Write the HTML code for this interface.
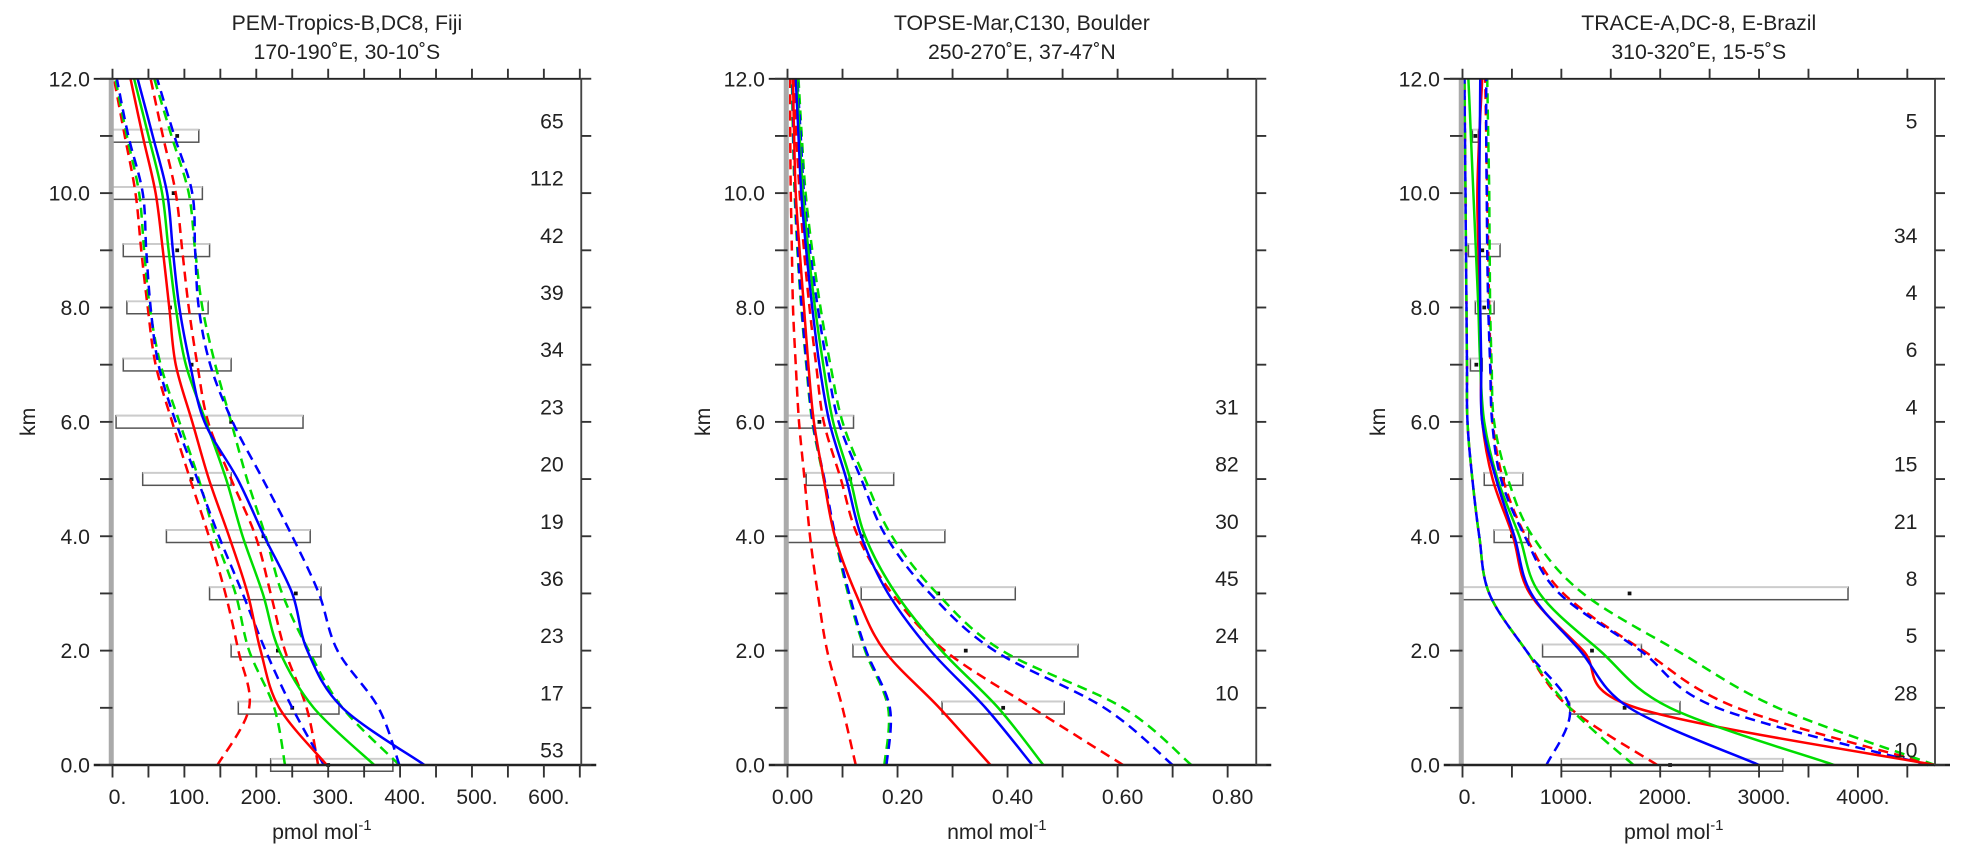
<!DOCTYPE html>
<html><head><meta charset="utf-8"><style>
html,body{margin:0;padding:0;background:#fff;}
svg{display:block;font-family:"Liberation Sans",sans-serif;}
</style></head><body>
<svg id="chart" width="1969" height="861" viewBox="0 0 1575.2 688.8" xmlns="http://www.w3.org/2000/svg"></svg>
<script>
// ---------- data ----------
const levels = [0,1,2,3,4,5,6,7,8,9,10,11,12];
const p1Titles = ["PEM-Tropics-B,DC8, Fiji","170-190˚E, 30-10˚S"];
const p2Titles = ["TOPSE-Mar,C130, Boulder","250-270˚E, 37-47˚N"];
const p3Titles = ["TRACE-A,DC-8, E-Brazil","310-320˚E, 15-5˚S"];
const p1Ticks = ["0.","100.","200.","300.","400.","500.","600."];
const p1TickVals = [0,100,200,300,400,500,600];
const p2Ticks = ["0.00","0.20","0.40","0.60","0.80"];
const p2TickVals = [0,0.2,0.4,0.6,0.8];
const p3Ticks = ["0.","1000.","2000.","3000.","4000."];
const p3TickVals = [0,1000,2000,3000,4000];
const yTickLabels = ["0.0","2.0","4.0","6.0","8.0","10.0","12.0"];
const yTickVals = [0,2,4,6,8,10,12];

// panel 1 profiles (value at each level 0..12)
const p1RedSolid   = [298,232,206,188,162,134,111,88,79,70,60,42,25];
const p1GreenSolid = [364,280,232,209,181,158,130,102,88,78,69,50,30];
const p1BlueSolid  = [434,320,271,250,211,174,128,108,93,84,76,56,35];
const p1RedLow     = [146,190,175,157,134,108,83,60,49,40,32,17,2];
const p1RedHigh    = [286,270,240,220,199,165,133,118,106,97,88,70,53];
const p1GreenLow   = [240,225,190,171,143,120,93,67,52,44,37,20,4];
const p1GreenHigh  = [399,320,273,236,213,187,165,143,125,115,106,82,58];
const p1BlueLow    = [294,250,213,181,148,118,88,64,53,47,42,22,6];
const p1BlueHigh   = [399,370,313,287,250,209,167,136,120,115,111,86,62];
const p1Counts = ["53","17","23","36","19","20","23","34","39","42","112","65",""];
const p1BoxLo  = [220,175,165,135,75,42,5,15,20,15,0,0,null];
const p1BoxHi  = [390,315,290,290,275,165,265,165,133,135,125,120,null];
const p1BoxMed = [300,250,230,255,210,110,165,110,80,90,85,90,null];

// panel 2 profiles
const p2RedSolid   = [0.369,0.276,0.176,0.124,0.086,0.066,0.048,0.038,0.030,0.022,0.015,0.012,0.010];
const p2GreenSolid = [0.465,0.383,0.280,0.197,0.141,0.114,0.083,0.065,0.050,0.038,0.028,0.022,0.017];
const p2BlueSolid  = [0.445,0.360,0.260,0.183,0.134,0.107,0.076,0.058,0.045,0.034,0.025,0.020,0.015];
const p2RedLow     = [0.124,0.100,0.072,0.055,0.041,0.031,0.021,0.015,0.010,0.008,0.006,0.005,0.005];
const p2RedHigh    = [0.610,0.445,0.286,0.190,0.128,0.097,0.066,0.052,0.040,0.030,0.022,0.016,0.012];
const p2GreenLow   = [0.176,0.183,0.141,0.110,0.086,0.066,0.045,0.034,0.025,0.018,0.013,0.010,0.008];
const p2GreenHigh  = [0.734,0.610,0.390,0.272,0.190,0.141,0.100,0.078,0.060,0.045,0.033,0.026,0.020];
const p2BlueLow    = [0.180,0.186,0.143,0.112,0.087,0.067,0.046,0.035,0.026,0.019,0.014,0.011,0.009];
const p2BlueHigh   = [0.700,0.576,0.376,0.259,0.179,0.134,0.093,0.072,0.055,0.041,0.030,0.024,0.018];
const p2Counts = ["","10","24","45","30","82","31","","","","","",""];
const p2BoxLo  = [null,0.281,0.119,0.134,0.0,0.034,0.0,null,null,null,null,null,null];
const p2BoxHi  = [null,0.503,0.528,0.414,0.286,0.193,0.120,null,null,null,null,null,null];
const p2BoxMed = [null,0.392,0.324,0.274,0.135,0.114,0.058,null,null,null,null,null,null];

// panel 3 profiles
const p3RedSolid   = [4780,1760,1220,680,510,305,200,185,170,160,150,170,200];
const p3GreenSolid = [3760,2100,1390,780,575,355,220,180,160,135,110,85,60];
const p3BlueSolid  = [3000,1690,1190,695,525,340,200,190,180,175,170,175,180];
const p3RedLow     = [1970,1085,645,270,170,100,50,45,40,35,30,25,20];
const p3RedHigh    = [4780,2780,1830,1020,640,410,305,285,270,260,250,240,230];
const p3GreenLow   = [1730,1085,645,270,170,100,50,45,40,35,30,25,20];
const p3GreenHigh  = [4780,3190,2170,1220,710,460,320,295,280,275,270,260,250];
const p3BlueLow    = [850,1085,645,270,170,100,50,45,40,35,30,25,20];
const p3BlueHigh   = [4710,2580,1800,980,630,390,300,280,260,250,245,240,240];
const p3Counts = ["10","28","5","8","21","15","4","6","4","34","","5",""];
const p3BoxLo  = [1000,1085,810,0,320,220,null,80,130,60,null,100,null];
const p3BoxHi  = [3240,2200,1810,3900,670,610,null,200,320,380,null,160,null];
const p3BoxMed = [2100,1640,1310,1690,500,410,null,140,220,200,null,130,null];

// ---------- drawing ----------
const NS = "http://www.w3.org/2000/svg";
const svg = document.getElementById('chart');
function el(tag, attrs, parent){
  const e = document.createElementNS(NS, tag);
  for (const k in attrs) e.setAttribute(k, attrs[k]);
  (parent||svg).appendChild(e);
  return e;
}
const TOP = 63, BOT = 612;
function yScale(km){ return BOT - (BOT-TOP)*km/12; }

function smoothPath(pts){
  let d = "M"+pts[0][0].toFixed(1)+","+pts[0][1].toFixed(1);
  for (let i=0;i<pts.length-1;i++){
    const p0 = pts[Math.max(0,i-1)], p1 = pts[i], p2 = pts[i+1], p3 = pts[Math.min(pts.length-1,i+2)];
    const c1x = p1[0]+(p2[0]-p0[0])/6, c1y = p1[1]+(p2[1]-p0[1])/6;
    const c2x = p2[0]-(p3[0]-p1[0])/6, c2y = p2[1]-(p3[1]-p1[1])/6;
    d += " C"+c1x.toFixed(1)+","+c1y.toFixed(1)+" "+c2x.toFixed(1)+","+c2y.toFixed(1)+" "+p2[0].toFixed(1)+","+p2[1].toFixed(1);
  }
  return d;
}

function panel(cfg){
  const g = el('g', {});
  
  
  const L = cfg.left, R = cfg.right;
  const xs = v => L + (R-L)*v/cfg.xmax;
  const cx = (L+R)/2;
  cfg.titles.forEach((t,i)=>{
    const tx = el('text', {x:cx, y:24+i*23, 'text-anchor':'middle', 'font-size':17, fill:'#222'}, g);
    
    
    tx.textContent = t;
  });
  const cid = cfg.name+'-clip';
  const cp = el('clipPath', {id:cid}, g);
  el('rect', {x:L, y:TOP-2, width:R-L, height:BOT-TOP+4}, cp);
  const boxG = el('g', {}, g);
  
  
  levels.forEach((km,i)=>{
    if (cfg.boxLo[i]===null) return;
    const x0 = xs(cfg.boxLo[i]), x1 = xs(cfg.boxHi[i]), y = yScale(km);
    const r = el('rect', {x:x0, y:y-5, width:Math.max(2,x1-x0), height:10, fill:'none', stroke:'#555', 'stroke-width':1.2}, boxG);
    
    
    el('line', {x1:x0, y1:y-5, x2:x1, y2:y-5, stroke:'#ccc', 'stroke-width':1.5}, boxG);
    const m = el('rect', {x:xs(cfg.boxMed[i])-1.5, y:y-1.5, width:3, height:3, fill:'#111'}, boxG);
    
    
  });
  const lg = el('g', {'clip-path':'url(#'+cid+')'}, g);
  cfg.series.forEach(s=>{
    const pts = levels.map((km,i)=>[xs(s.vals[i]), yScale(km)]);
    const p = el('path', {d:smoothPath(pts), fill:'none', stroke:s.color, 'stroke-width':2, 'stroke-dasharray': s.dash ? '8,5' : 'none'}, lg);
    
    
  });
  el('rect', {x:L-3, y:TOP, width:4, height:BOT-TOP, fill:'#aaa'}, g);
  el('line', {x1:L-15, y1:TOP, x2:R, y2:TOP, stroke:'#222', 'stroke-width':1.5}, g);
  el('line', {x1:L-15, y1:BOT, x2:R+12, y2:BOT, stroke:'#222', 'stroke-width':2}, g);
  el('line', {x1:R, y1:TOP, x2:R, y2:BOT, stroke:'#444', 'stroke-width':1.5}, g);
  levels.forEach(km=>{
    const y = yScale(km);
    el('line', {x1:L-10, y1:y, x2:L, y2:y, stroke:'#333', 'stroke-width':1.5}, g);
    el('line', {x1:R, y1:y, x2:R+8, y2:y, stroke:'#333', 'stroke-width':1.5}, g);
  });
  yTickVals.forEach((v,i)=>{
    const t = el('text', {x:L-18, y:yScale(v)+6, 'text-anchor':'end', 'font-size':17, fill:'#222'}, g);
    
    
    t.textContent = yTickLabels[i];
  });
  const step = cfg.tickVals[1]-cfg.tickVals[0];
  for (let v=0; v<=cfg.xmax+1e-9; v+=step/2){
    const x = xs(v);
    el('line', {x1:x, y1:BOT, x2:x, y2:BOT+10, stroke:'#333', 'stroke-width':1.5}, g);
    el('line', {x1:x, y1:TOP, x2:x, y2:TOP-8, stroke:'#333', 'stroke-width':1.5}, g);
  }
  cfg.tickVals.forEach((v,i)=>{
    const t = el('text', {x:xs(v)+4, y:643, 'text-anchor':'middle', 'font-size':17, fill:'#222'}, g);
    
    
    t.textContent = cfg.ticks[i];
  });
  levels.forEach((km,i)=>{
    if (!cfg.counts[i]) return;
    const t = el('text', {x:R-14, y:yScale(km)-6, 'text-anchor':'end', 'font-size':17, fill:'#222'}, g);
    
    
    t.textContent = cfg.counts[i];
  });
  const xt = el('text', {x:cx-20, y:671, 'text-anchor':'middle', 'font-size':17, fill:'#222'}, g);
  
  
  xt.innerHTML = cfg.unit + ' mol<tspan dy="-7" font-size="12">-1</tspan>';
  const yt = el('text', {x:0, y:0, 'text-anchor':'middle', 'font-size':17, fill:'#222', transform:'translate('+(L-62)+','+yScale(6)+') rotate(-90)'}, g);
  
  
  yt.textContent = 'km';
}

function seriesList(r,g,b,rl,rh,gl,gh,bl,bh){
  return [
    {name:'red-low-dashed', color:'#ff0000', dash:true, vals:rl},
    {name:'red-high-dashed', color:'#ff0000', dash:true, vals:rh},
    {name:'green-low-dashed', color:'#00dd00', dash:true, vals:gl},
    {name:'green-high-dashed', color:'#00dd00', dash:true, vals:gh},
    {name:'blue-low-dashed', color:'#0000ff', dash:true, vals:bl},
    {name:'blue-high-dashed', color:'#0000ff', dash:true, vals:bh},
    {name:'red-solid', color:'#ff0000', dash:false, vals:r},
    {name:'green-solid', color:'#00dd00', dash:false, vals:g},
    {name:'blue-solid', color:'#0000ff', dash:false, vals:b}
  ];
}

panel({name:'panel-pem-tropics', left:90, right:465, xmax:652, titles:p1Titles, ticks:p1Ticks, tickVals:p1TickVals, unit:'pmol',
  counts:p1Counts, boxLo:p1BoxLo, boxHi:p1BoxHi, boxMed:p1BoxMed,
  series:seriesList(p1RedSolid,p1GreenSolid,p1BlueSolid,p1RedLow,p1RedHigh,p1GreenLow,p1GreenHigh,p1BlueLow,p1BlueHigh)});
panel({name:'panel-topse', left:630, right:1005, xmax:0.852, titles:p2Titles, ticks:p2Ticks, tickVals:p2TickVals, unit:'nmol',
  counts:p2Counts, boxLo:p2BoxLo, boxHi:p2BoxHi, boxMed:p2BoxMed,
  series:seriesList(p2RedSolid,p2GreenSolid,p2BlueSolid,p2RedLow,p2RedHigh,p2GreenLow,p2GreenHigh,p2BlueLow,p2BlueHigh)});
panel({name:'panel-trace-a', left:1170, right:1548, xmax:4780, titles:p3Titles, ticks:p3Ticks, tickVals:p3TickVals, unit:'pmol',
  counts:p3Counts, boxLo:p3BoxLo, boxHi:p3BoxHi, boxMed:p3BoxMed,
  series:seriesList(p3RedSolid,p3GreenSolid,p3BlueSolid,p3RedLow,p3RedHigh,p3GreenLow,p3GreenHigh,p3BlueLow,p3BlueHigh)});
</script>
</body></html>
